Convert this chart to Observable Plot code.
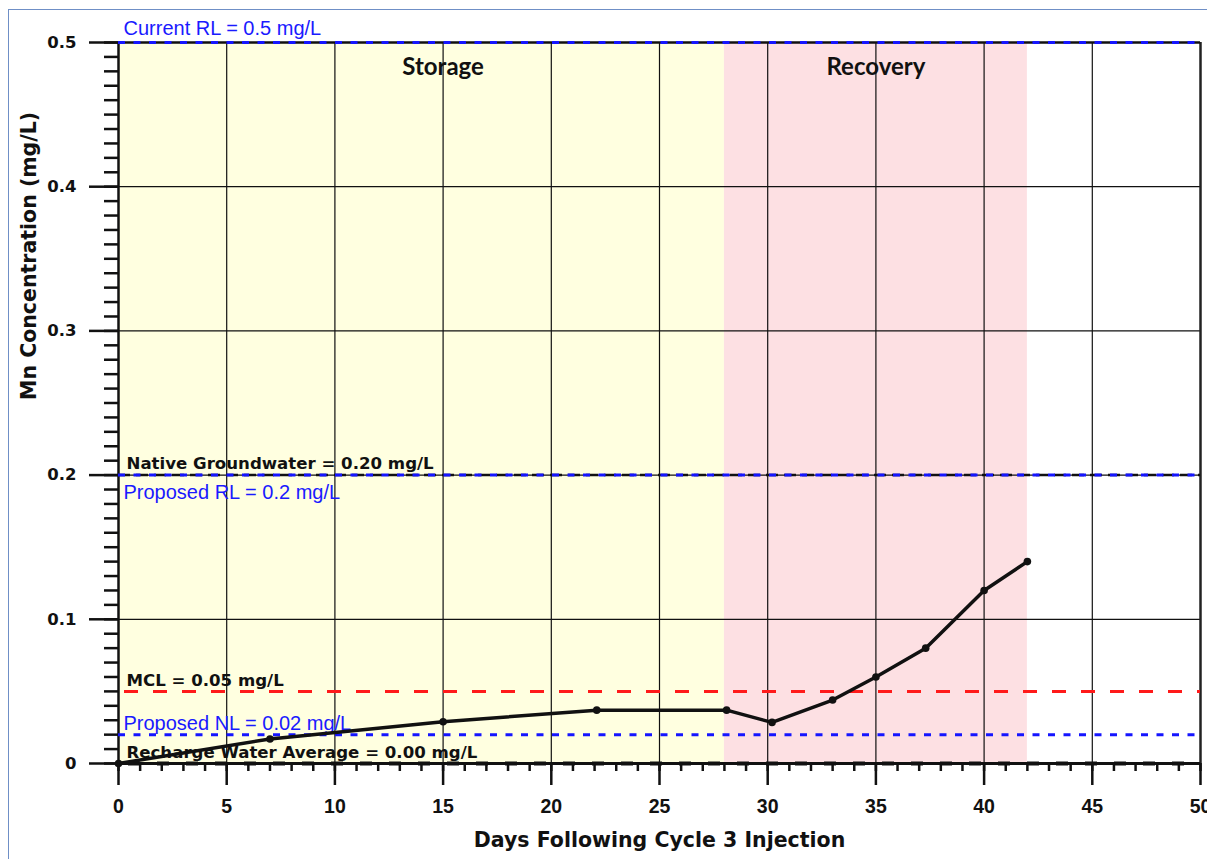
<!DOCTYPE html>
<html>
<head>
<meta charset="utf-8">
<script src="https://cdn.jsdelivr.net/npm/d3@7"></script>
<script src="https://cdn.jsdelivr.net/npm/@observablehq/plot@0.6"></script>
<style>
  html, body { margin: 0; padding: 0; background: #fff; }
  #wrap { position: relative; width: 1207px; height: 859px; overflow: hidden; }
  #border { position: absolute; left: 8px; top: 9px; right: -5px; bottom: -5px; border-left: 1.3px solid #6f8fc6; border-top: 1.3px solid #6f8fc6; pointer-events: none; }
</style>
</head>
<body>
<div id="wrap"><div id="border"></div></div>
<script>
// ---- data ----
const days = [0, 7, 15, 22.1, 28.1, 30.2, 33, 35, 37.3, 40, 42];
const mn   = [0, 0.017, 0.029, 0.037, 0.037, 0.0285, 0.044, 0.06, 0.08, 0.12, 0.14];

const phaseNames = ["Storage", "Recovery"];
const phaseStart = [0, 28];
const phaseEnd   = [28, 42];
const phaseFill  = ["#ffffe0", "#fde0e3"];
const phaseLabelX = [15, 35];

const xMajor = [0, 5, 10, 15, 20, 25, 30, 35, 40, 45, 50];
const yMajor = [0, 0.1, 0.2, 0.3, 0.4, 0.5];
const xMinor = d3.range(0, 51, 1);
const yMinor = d3.range(0, 51, 1).map(d => d / 100);

const refBlackLabels = ["Native Groundwater = 0.20 mg/L", "MCL = 0.05 mg/L", "Recharge Water Average = 0.00 mg/L"];
const refBlackValues = [0.2, 0.05, 0.0];
const refBlueLabels  = ["Current RL = 0.5 mg/L", "Proposed RL = 0.2 mg/L", "Proposed NL = 0.02 mg/L"];
const refBlueValues  = [0.5, 0.2, 0.02];

const xTitle = "Days Following Cycle 3 Injection";
const yTitle = "Mn Concentration (mg/L)";

// ---- tables built from arrays ----
const series = days.map((d, i) => ({day: d, mn: mn[i]}));
const phases = phaseNames.map((n, i) => ({name: n, x1: phaseStart[i], x2: phaseEnd[i], fill: phaseFill[i], lx: phaseLabelX[i]}));
const blackRefs = refBlackLabels.map((t, i) => ({label: t, y: refBlackValues[i]}));
const blueRefs = refBlueLabels.map((t, i) => ({label: t, y: refBlueValues[i]}));

const arial = "'Liberation Sans', Arial, sans-serif";
const wide = "'DejaVu Sans', Verdana, sans-serif";

const chart = Plot.plot({
  width: 1207,
  height: 859,
  marginLeft: 118,
  marginRight: 7,
  marginTop: 42,
  marginBottom: 96,
  style: {fontFamily: arial, background: "transparent", overflow: "visible"},
  x: {domain: [0, 50]},
  y: {domain: [0, 0.5]},
  marks: [
    // phase backgrounds
    Plot.rectX(phases, {x1: "x1", x2: "x2", y1: 0, y2: 0.5, fill: "fill"}),
    // grid
    Plot.ruleX(xMajor.filter(d => d > 0 && d < 50), {stroke: "#111", strokeWidth: 1.2}),
    Plot.ruleY(yMajor.filter(d => d > 0 && d < 0.5), {stroke: "#111", strokeWidth: 1.2}),
    // phase labels
    Plot.text(phases, {x: "lx", y: 0.5, text: "name", dy: 25, fontSize: 24, fontWeight: "bold", fontFamily: "Lato, 'Open Sans', sans-serif", fill: "#111"}),
    // frame
    Plot.ruleX([0], {stroke: "#111", strokeWidth: 2.5}),
    Plot.ruleX([50], {stroke: "#222", strokeWidth: 2.5}),
    Plot.ruleY([0.5], {stroke: "#111", strokeWidth: 2.5}),
    Plot.ruleY([0], {stroke: "#111", strokeWidth: 3}),
    // reference lines
    Plot.ruleY([0.2], {stroke: "#111", strokeWidth: 2.5, strokeDasharray: "12,6"}),
    Plot.ruleY([0], {stroke: "#111", strokeWidth: 4, strokeDasharray: "12,17", strokeDashoffset: -10}),
    Plot.ruleY([0.05], {stroke: "#ff1a1a", strokeWidth: 3, strokeDasharray: "14,15", strokeDashoffset: -6}),
    Plot.ruleY([0.02, 0.2, 0.5], {stroke: "#1515ff", strokeWidth: 3, strokeDasharray: "7,8.5"}),
    // reference labels
    Plot.text(blackRefs, {x: 0, y: "y", text: "label", dx: 8, dy: -11, textAnchor: "start", fontSize: 16.6, fontWeight: "bold", fontFamily: wide, fill: "#111"}),
    Plot.text(blueRefs.filter(d => d.y === 0.5), {x: 0, y: "y", text: "label", dx: 5, dy: -14, textAnchor: "start", fontSize: 20, fill: "#1a1aff"}),
    Plot.text(blueRefs.filter(d => d.y === 0.2), {x: 0, y: "y", text: "label", dx: 5, dy: 17, textAnchor: "start", fontSize: 20, fill: "#1a1aff"}),
    Plot.text(blueRefs.filter(d => d.y === 0.02), {x: 0, y: "y", text: "label", dx: 5, dy: -11.5, textAnchor: "start", fontSize: 20, fill: "#1a1aff"}),
    // data
    Plot.line(series, {x: "day", y: "mn", stroke: "#111", strokeWidth: 3.5}),
    Plot.dot(series, {x: "day", y: "mn", r: 3.8, fill: "#111"}),
    // axes
    Plot.axisY(yMinor, {tickSize: 14, tickFormat: () => "", strokeWidth: 2.5, stroke: "#111", label: null}),
    Plot.axisY(yMajor, {tickSize: 29, tickPadding: 13, strokeWidth: 2.5, stroke: "#111", fill: "#111", fontSize: 16.5, fontWeight: "bold", fontFamily: wide, tickFormat: d => d === 0 ? "0" : d3.format(".1f")(d), label: null}),
    Plot.axisX(xMinor, {tickSize: 8, tickFormat: () => "", strokeWidth: 2.5, stroke: "#111", label: null}),
    Plot.axisX(xMajor, {tickSize: 22, tickPadding: 14, strokeWidth: 2.5, stroke: "#111", fill: "#111", fontSize: 19.5, fontWeight: "bold", tickFormat: d => String(d), label: null}),
    // axis titles
    Plot.text([yTitle], {frameAnchor: "left", dx: -89, dy: -3, rotate: -90, text: d => d, fontSize: 20.5, fontWeight: "bold", fontFamily: wide, fill: "#111"}),
    Plot.text([xTitle], {frameAnchor: "bottom", dy: 83, text: d => d, fontSize: 20.5, fontWeight: "bold", fontFamily: wide, fill: "#111"})
  ]
});
document.getElementById("wrap").prepend(chart);
</script>
</body>
</html>
